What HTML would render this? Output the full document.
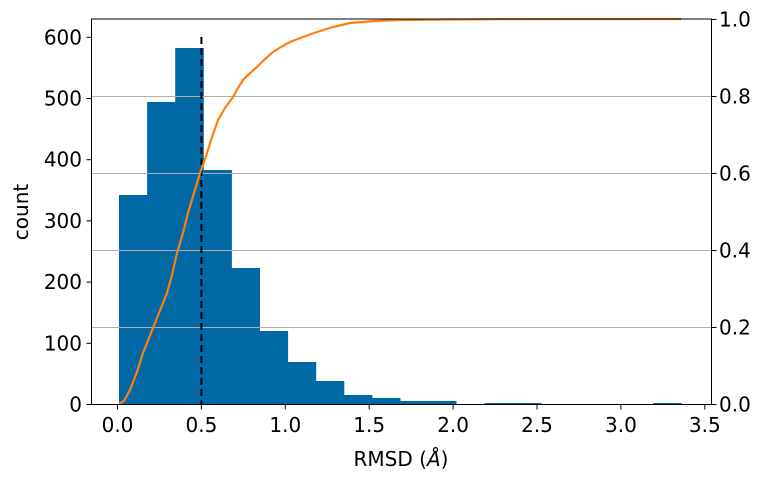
<!DOCTYPE html>
<html><head><meta charset="utf-8"><style>
html,body{margin:0;padding:0;background:#fff;}
svg{display:block;font-family:"DejaVu Sans","Liberation Sans",sans-serif;}
</style></head><body>
<svg width="765" height="480" viewBox="0 0 765 480" xmlns="http://www.w3.org/2000/svg">
<g fill="#0069a5">
<rect x="119" y="195" width="28.6" height="209.5"/>
<rect x="147.1" y="102" width="28.6" height="302.5"/>
<rect x="175.2" y="48" width="28.6" height="356.5"/>
<rect x="203.3" y="170" width="28.6" height="234.5"/>
<rect x="231.4" y="268" width="28.6" height="136.5"/>
<rect x="259.5" y="331" width="28.6" height="73.5"/>
<rect x="287.6" y="362" width="28.6" height="42.5"/>
<rect x="315.7" y="381" width="28.6" height="23.5"/>
<rect x="343.8" y="395" width="28.6" height="9.5"/>
<rect x="371.9" y="398" width="28.6" height="6.5"/>
<rect x="400" y="401" width="56.5" height="3.5"/>
<rect x="484.5" y="403" width="57" height="1.5"/>
<rect x="653" y="403" width="28.5" height="1.5"/>
</g>
<g stroke="#b0b0b0" stroke-width="1">
<line x1="91.5" x2="711.5" y1="96.5" y2="96.5"/>
<line x1="91.5" x2="711.5" y1="173.5" y2="173.5"/>
<line x1="91.5" x2="711.5" y1="250.5" y2="250.5"/>
<line x1="91.5" x2="711.5" y1="327.5" y2="327.5"/>
</g>
<line x1="201.4" x2="201.4" y1="37" y2="404.5" stroke="#000" stroke-width="2" stroke-dasharray="7,4"/>
<polyline fill="none" stroke="#ff7f0e" stroke-width="2.2" points="119,404 124,401 130,390 137,372 143,353 149,338 155,323 161,308 167,293 172,275 177,253 183,233 188,213 194,193 200,173 204,162 207,153 212,137 218,120 225,108 233,97 238,88 243,80 250,73 257,67 265,59 273,52 281,47 290,42 303,37 317,32 333,27 350,23 375,21 400,20 450,19.5 500,19.2 681,19"/>
<rect x="91.5" y="19" width="620" height="385.5" fill="none" stroke="#000" stroke-width="1"/>
<g stroke="#000" stroke-width="1">
<line x1="117.5" x2="117.5" y1="404.5" y2="409.5"/>
<line x1="201.4" x2="201.4" y1="404.5" y2="409.5"/>
<line x1="285.3" x2="285.3" y1="404.5" y2="409.5"/>
<line x1="369.2" x2="369.2" y1="404.5" y2="409.5"/>
<line x1="453.1" x2="453.1" y1="404.5" y2="409.5"/>
<line x1="537" x2="537" y1="404.5" y2="409.5"/>
<line x1="620.9" x2="620.9" y1="404.5" y2="409.5"/>
<line x1="704.8" x2="704.8" y1="404.5" y2="409.5"/>
<line x1="86.5" x2="91.5" y1="404.5" y2="404.5"/>
<line x1="86.5" x2="91.5" y1="343.3" y2="343.3"/>
<line x1="86.5" x2="91.5" y1="282.1" y2="282.1"/>
<line x1="86.5" x2="91.5" y1="220.9" y2="220.9"/>
<line x1="86.5" x2="91.5" y1="159.7" y2="159.7"/>
<line x1="86.5" x2="91.5" y1="98.5" y2="98.5"/>
<line x1="86.5" x2="91.5" y1="37.3" y2="37.3"/>
<line x1="711.5" x2="716.5" y1="404.5" y2="404.5"/>
<line x1="711.5" x2="716.5" y1="327.5" y2="327.5"/>
<line x1="711.5" x2="716.5" y1="250.5" y2="250.5"/>
<line x1="711.5" x2="716.5" y1="173.5" y2="173.5"/>
<line x1="711.5" x2="716.5" y1="96.5" y2="96.5"/>
<line x1="711.5" x2="716.5" y1="19.5" y2="19.5"/>
</g>
<g font-size="20" fill="#000" text-anchor="middle">
<text x="117.5" y="432">0.0</text>
<text x="201.4" y="432">0.5</text>
<text x="285.3" y="432">1.0</text>
<text x="369.2" y="432">1.5</text>
<text x="453.1" y="432">2.0</text>
<text x="537" y="432">2.5</text>
<text x="620.9" y="432">3.0</text>
<text x="704.8" y="432">3.5</text>
</g>
<g font-size="20" fill="#000" text-anchor="end">
<text x="82" y="411.5">0</text>
<text x="82" y="350.3">100</text>
<text x="82" y="289.1">200</text>
<text x="82" y="227.9">300</text>
<text x="82" y="166.7">400</text>
<text x="82" y="105.5">500</text>
<text x="82" y="44.3">600</text>
</g>
<g font-size="20" fill="#000" text-anchor="start">
<text x="719" y="411.5">0.0</text>
<text x="719" y="334.5">0.2</text>
<text x="719" y="257.5">0.4</text>
<text x="719" y="180.5">0.6</text>
<text x="719" y="103.5">0.8</text>
<text x="719" y="26.5">1.0</text>
</g>
<text x="401" y="466" font-size="20" text-anchor="middle">RMSD (<tspan font-style="italic">Å</tspan>)</text>
<text transform="translate(28,212) rotate(-90)" font-size="20" text-anchor="middle">count</text>
</svg>
</body></html>
